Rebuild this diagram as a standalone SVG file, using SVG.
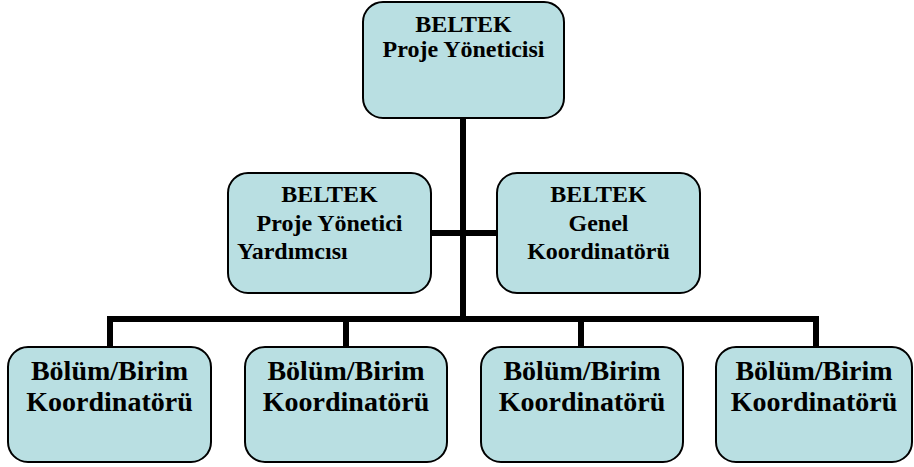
<svg xmlns="http://www.w3.org/2000/svg" width="914" height="467" viewBox="0 0 914 467">
<style>
.box{fill:#B9DFE2;stroke:#000;stroke-width:2}
.t{font-family:'Liberation Serif',serif;font-weight:bold;fill:#000}
.m{font-size:24px;text-anchor:middle}
.b{font-size:28px;text-anchor:middle}
.c{stroke:#000;stroke-width:6;fill:none}
</style>
<rect width="914" height="467" fill="#fff"/>
<g id="connectors">
<line class="c" x1="463" y1="118" x2="463" y2="319"/>
<line class="c" x1="431" y1="233" x2="497" y2="233"/>
<polyline class="c" points="110,347 110,319 816,319 816,347"/>
<line class="c" x1="346" y1="319" x2="346" y2="347"/>
<line class="c" x1="581" y1="319" x2="581" y2="347"/>
</g>
<g id="n-top">
<rect class="box" x="363" y="2" width="201" height="116" rx="20"/>
<text class="t m" x="463.5" y="32">BELTEK</text>
<text class="t m" x="463.5" y="57">Proje Yöneticisi</text>
</g>
<g id="n-yardimci">
<rect class="box" x="228" y="173" width="203" height="120" rx="20"/>
<text class="t m" x="329.5" y="202">BELTEK</text>
<text class="t m" x="329.5" y="231">Proje Yönetici</text>
<text class="t" x="237" y="259" font-size="24">Yardımcısı</text>
</g>
<g id="n-genel">
<rect class="box" x="497" y="173" width="203" height="120" rx="20"/>
<text class="t m" x="598.5" y="202">BELTEK</text>
<text class="t m" x="598.5" y="231">Genel</text>
<text class="t m" x="598.5" y="259">Koordinatörü</text>
</g>
<g id="n-b1">
<rect class="box" x="8" y="347" width="203" height="115" rx="20"/>
<text class="t b" x="109.5" y="380">Bölüm/Birim</text>
<text class="t b" x="109.5" y="411">Koordinatörü</text>
</g>
<g id="n-b2">
<rect class="box" x="245" y="347" width="202" height="115" rx="20"/>
<text class="t b" x="346" y="380">Bölüm/Birim</text>
<text class="t b" x="346" y="411">Koordinatörü</text>
</g>
<g id="n-b3">
<rect class="box" x="481" y="347" width="202" height="115" rx="20"/>
<text class="t b" x="582" y="380">Bölüm/Birim</text>
<text class="t b" x="582" y="411">Koordinatörü</text>
</g>
<g id="n-b4">
<rect class="box" x="716" y="347" width="196" height="115" rx="20"/>
<text class="t b" x="814" y="380">Bölüm/Birim</text>
<text class="t b" x="814" y="411">Koordinatörü</text>
</g>
</svg>
